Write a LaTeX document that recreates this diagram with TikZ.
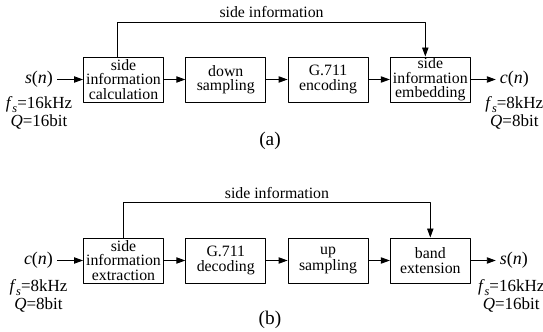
\documentclass[tikz,border=0pt]{standalone}
\usepackage{fontspec}
\setmainfont{Liberation Serif}
\usetikzlibrary{arrows.meta,positioning}
\tikzset{
  every picture/.style={line join=round, >={Triangle[length=0.27cm,width=0.19cm]}},
  blk/.style={draw, line width=0.8pt, minimum width=2.4cm, minimum height=1.35cm,
    inner sep=0pt, align=center, font=\fontsize{13.5}{12.2}\selectfont},
  sig/.style={font=\fontsize{15.3}{16}\selectfont},
  rate/.style={align=center, inner sep=0pt, font=\fontsize{14.5}{15.5}\selectfont},
  flow/.style={->, line width=0.8pt},
}
\newcommand{\ital}[1]{\textit{#1}}
\newcommand{\fsub}{\ital{f}\raisebox{-0.5ex}{\fontsize{10.5}{11}\selectfont\ital{s}}}
\begin{document}
\begin{tikzpicture}
\useasboundingbox (0,0) rectangle (16.29,9.93);
% (a) encoder
\node[blk] (a1) at (3.705,7.545) {side\\information\\calculation};
\node[blk, right=0.64cm of a1] (a2) {down\\sampling};
\node[blk, right=0.64cm of a2] (a3) {G.711\\encoding};
\node[blk, right=0.64cm of a3] (a4) {side\\information\\embedding};
\node[sig, left=0.78cm of a1] (sa) {\ital{s}(\ital{n})};
\node[sig, right=0.75cm of a4] (ca) {\ital{c}(\ital{n})};
\node[rate, below=0.14cm of sa] (ra) {\fsub=16kHz\\\ital{Q}=16bit};
\node[rate, below=0.14cm of ca] (rc) {\fsub=8kHz\\\ital{Q}=8bit};
\draw[flow] (sa)--(a1);
\draw[flow] (a1)--(a2);
\draw[flow] (a2)--(a3);
\draw[flow] (a3)--(a4);
\draw[flow] (a4)--(ca);
\draw[flow] ([xshift=-0.17cm]a1.north)--++(0,1.02)
  -|node[pos=0.25,above,font=\fontsize{13.5}{14}\selectfont]{side information}
  ([xshift=-0.15cm]a4.north);
\node[font=\fontsize{16.5}{17}\selectfont] (la) at (8.1,5.7) {(a)};
% (b) decoder
\node[blk] (b1) at (3.705,2.115) {side\\information\\extraction};
\node[blk, right=0.64cm of b1] (b2) {G.711\\decoding};
\node[blk, right=0.64cm of b2] (b3) {up\\sampling};
\node[blk, right=0.64cm of b3] (b4) {band\\extension};
\node[sig, left=0.78cm of b1] (cb) {\ital{c}(\ital{n})};
\node[sig, right=0.75cm of b4] (sb) {\ital{s}(\ital{n})};
\node[rate, below=0.2cm of cb] (rb) {\fsub=8kHz\\\ital{Q}=8bit};
\node[rate, below=0.2cm of sb, xshift=-0.08cm] (rs) {\fsub=16kHz\\\ital{Q}=16bit};
\draw[flow] (cb)--(b1);
\draw[flow] (b1)--(b2);
\draw[flow] (b2)--(b3);
\draw[flow] (b3)--(b4);
\draw[flow] (b4)--(sb);
\draw[flow] (b1.north)--++(0,1.05)
  -|node[pos=0.25,above,font=\fontsize{13.5}{14}\selectfont]{side information}
  (b4.north);
\node[font=\fontsize{16.5}{17}\selectfont] (lb) at (8.1,0.33) {(b)};
\end{tikzpicture}
\end{document}
